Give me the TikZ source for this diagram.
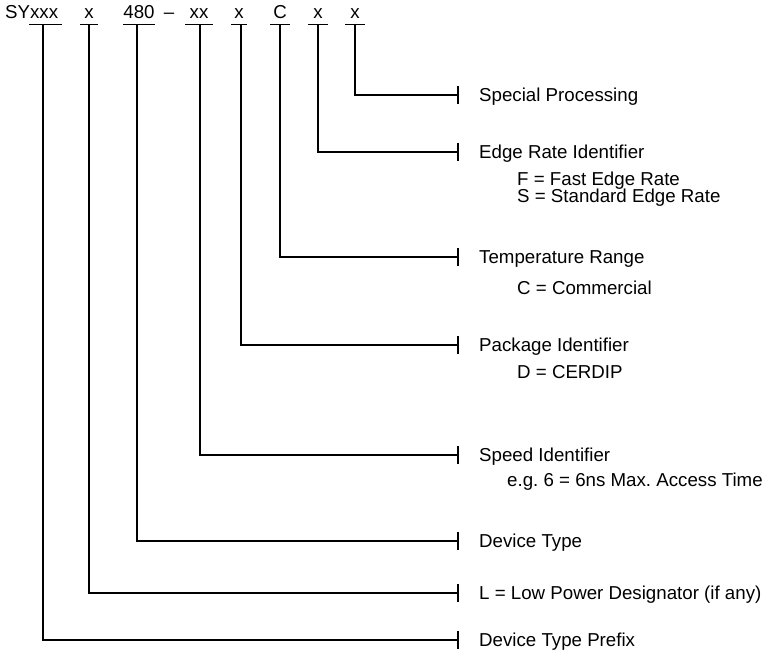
\documentclass[tikz,border=0pt]{standalone}
\usepackage{fontspec}
\setmainfont{Liberation Sans}
\frenchspacing
\begin{document}
\begin{tikzpicture}[x=1pt,y=-1pt,
  txt/.style={inner sep=0pt, font=\fontsize{18.7pt}{14pt}\selectfont},
  lbl/.style={txt, anchor=base west},
  toplbl/.style={txt, anchor=base},
  lead/.style={line width=1.4pt},
  ul/.style={line width=1.6pt}]
\useasboundingbox[fill=white] (0,0) rectangle (768,652);

% top code string
\node[txt, anchor=base west] (p0) at (5,19) {SYxxx};
\node[toplbl] (p1) at (89,19) {x};
\node[toplbl] (p2) at (139,19) {480};
\node[toplbl] (pd) at (169,19) {–};
\node[toplbl] (p3) at (199,19) {xx};
\node[toplbl] (p4) at (239,19) {x};
\node[toplbl] (p5) at (280,19) {C};
\node[toplbl] (p6) at (318,19) {x};
\node[toplbl] (p7) at (355,19) {x};

% underlines
\draw[ul] (29,24.5) -- (62,24.5);
\draw[ul] (80,24.5) -- (98,24.5);
\draw[ul] (123,24.5) -- (155,24.5);
\draw[ul] (185,24.5) -- (213,24.5);
\draw[ul] (231,24.5) -- (247,24.5);
\draw[ul] (270,24.5) -- (290,24.5);
\draw[ul] (308,24.5) -- (328,24.5);
\draw[ul] (345,24.5) -- (365,24.5);

% leaders and labels
\foreach \i/\xx/\yy/\t in {
  7/355/95/Special Processing,
  6/318/152/Edge Rate Identifier,
  5/280/257/Temperature Range,
  4/241/345/Package Identifier,
  3/200/455/Speed Identifier,
  2/137/541/Device Type,
  1/89/593/L = Low Power Designator (if any),
  0/43/640/Device Type Prefix}{
  \coordinate (s\i) at (\xx,24.5);
  \coordinate (e\i) at (458,\yy);
  \draw[lead] (s\i) |- (e\i);
  \draw[lead] (e\i) ++(0,-9) -- ++(0,18);
  \node[lbl] (l\i) at (479,\yy+6.7) {\t};
}

% sub labels
\node[lbl] (f) at (517,179+6.7) {F = Fast Edge Rate};
\node[lbl] (s) at (517,196+6.7) {S = Standard Edge Rate};
\node[lbl] (c) at (517,288+6.7) {C = Commercial};
\node[lbl] (d) at (517,372+6.7) {D = CERDIP};
\node[lbl] (eg) at (507,480+6.7) {e.g. 6 = 6ns Max. Access Time};
\end{tikzpicture}
\end{document}
